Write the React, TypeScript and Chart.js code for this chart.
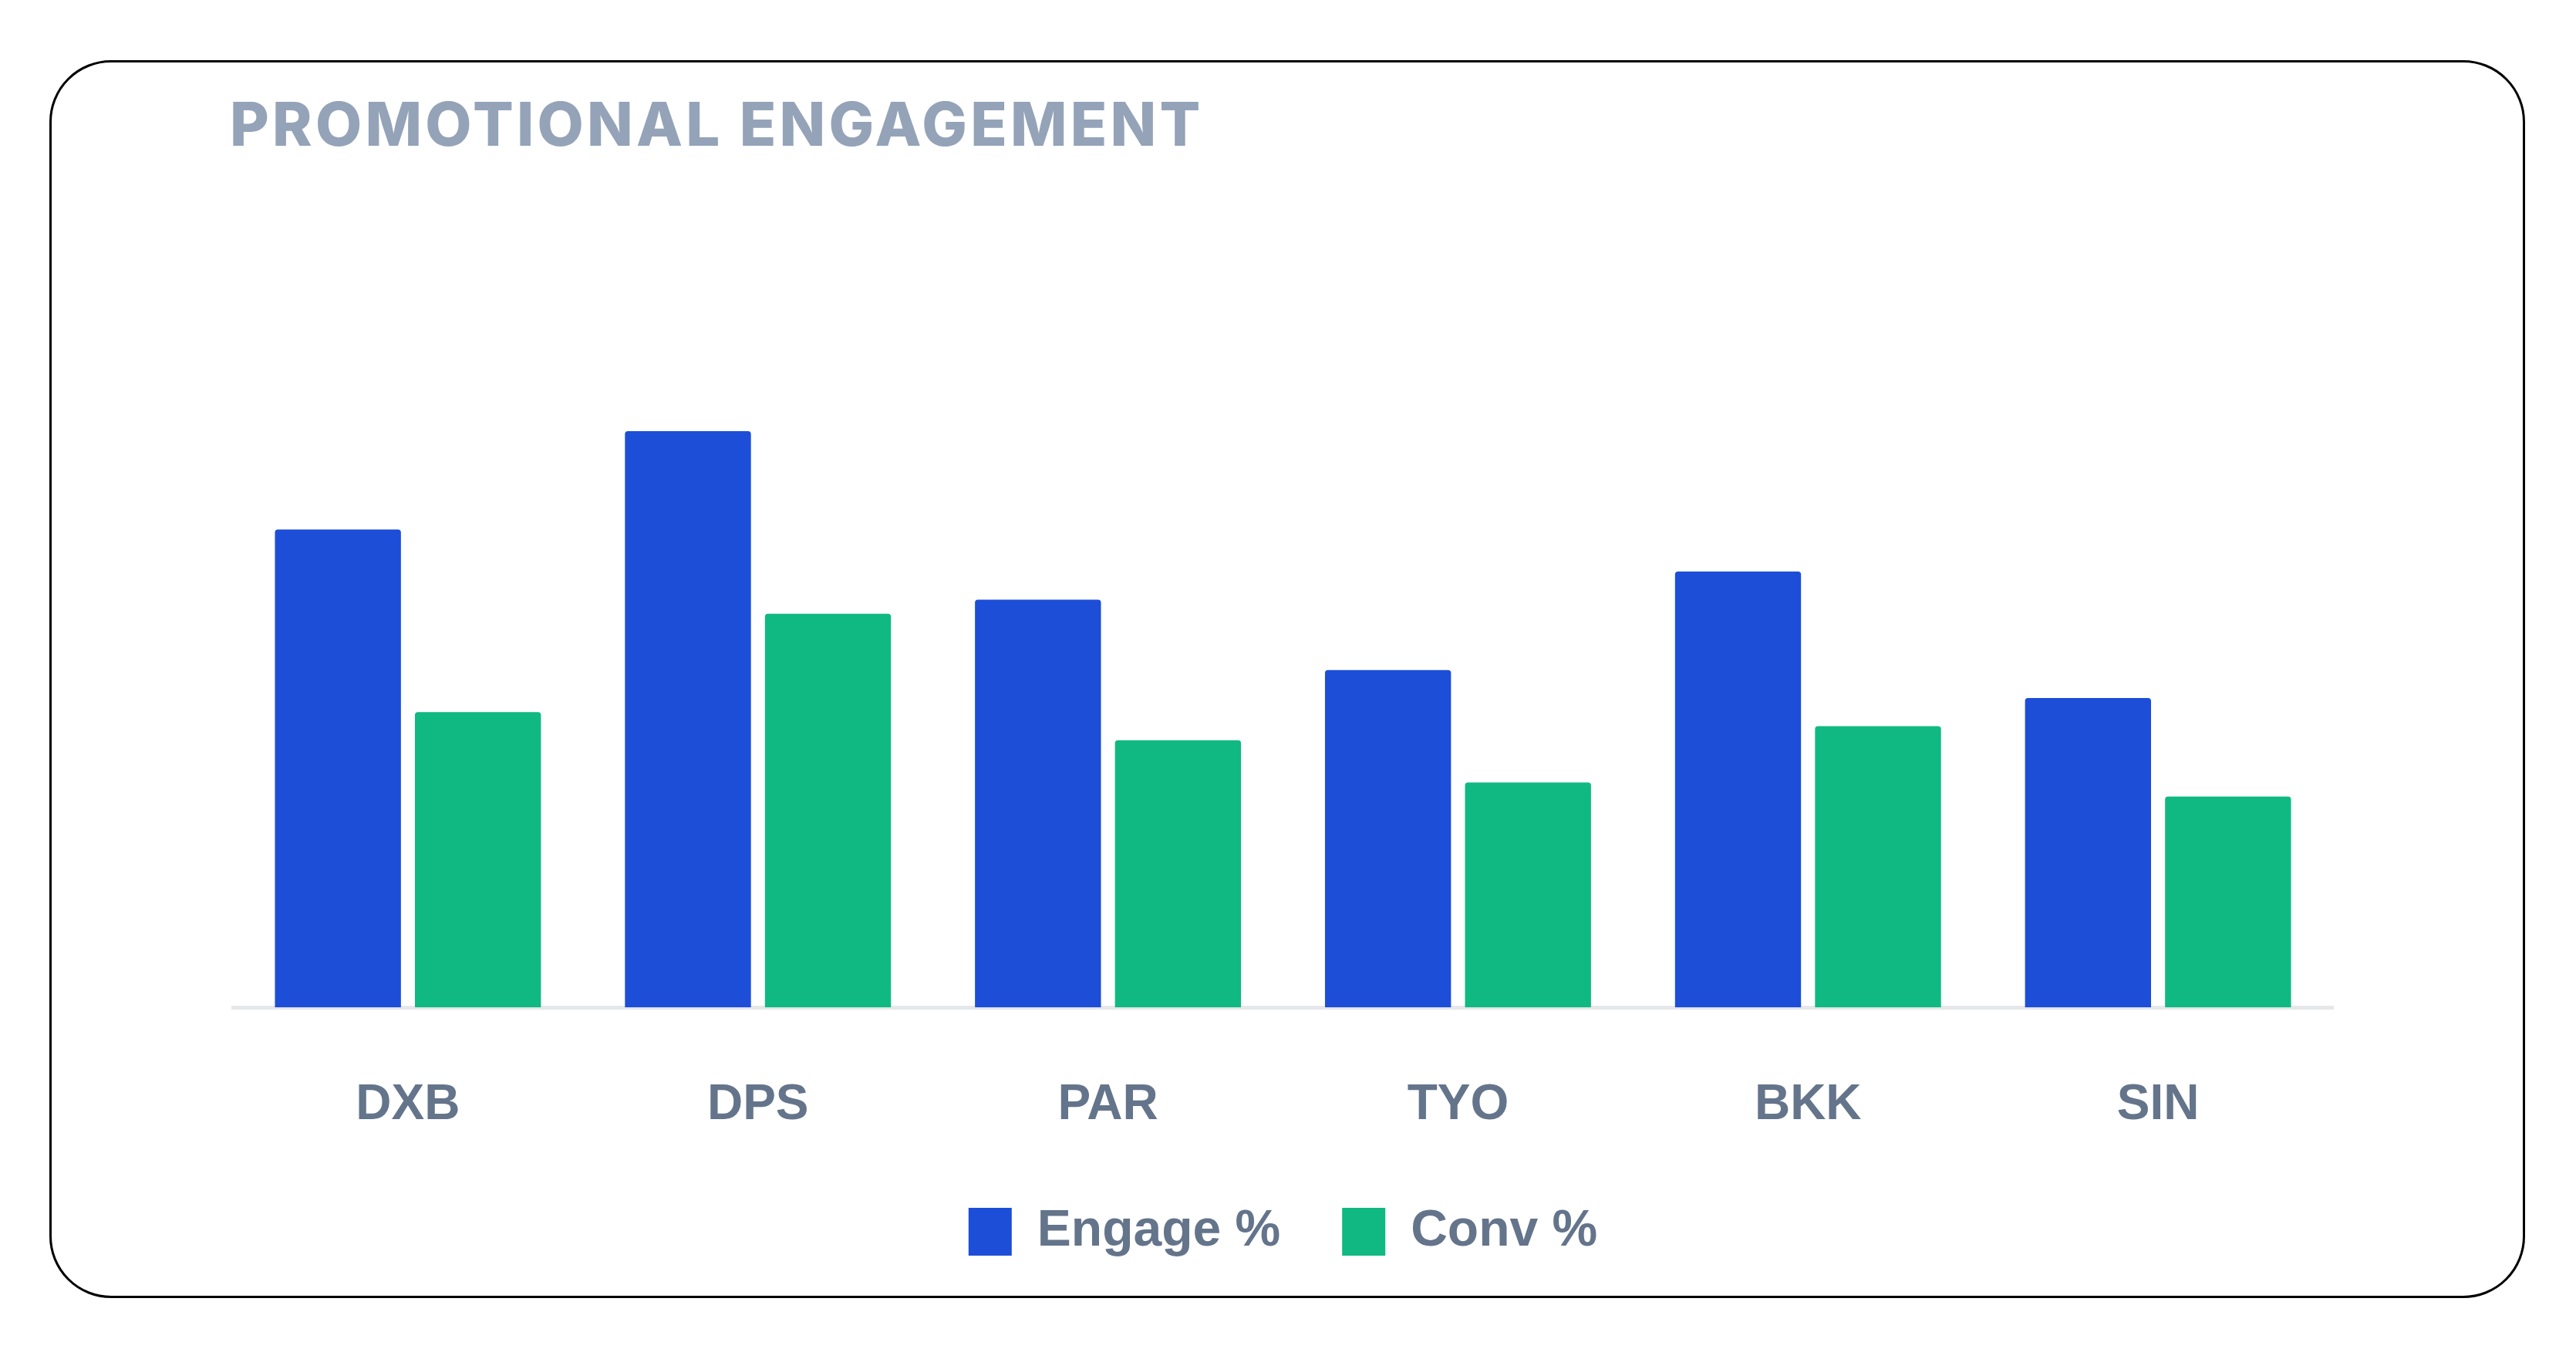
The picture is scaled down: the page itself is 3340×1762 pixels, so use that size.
import React, { useEffect, useRef } from "react";
import { Chart, registerables } from "chart.js";

Chart.register(...registerables);

const categories = ["DXB", "DPS", "PAR", "TYO", "BKK", "SIN"];
const engageValues = [34, 41, 29, 24, 31, 22];
const convValues = [21, 28, 19, 16, 20, 15];
const seriesLabels = ["Engage %", "Conv %"];
const titleText = "PROMOTIONAL ENGAGEMENT";

const BLUE = "#1d4ed8";
const GREEN = "#10b981";
const LABEL = "#64748b";
const FONT = "'Liberation Sans', Arial, Helvetica, sans-serif";

export default function App() {
  const canvasRef = useRef<HTMLCanvasElement | null>(null);

  useEffect(() => {
    const canvas = canvasRef.current;
    if (!canvas) return;
    const chart = new Chart(canvas, {
      type: "bar",
      data: {
        labels: categories,
        datasets: [
          {
            label: seriesLabels[0],
            data: engageValues,
            backgroundColor: BLUE,
            borderWidth: 0,
            borderRadius: 4,
            categoryPercentage: 0.8,
            barPercentage: 0.9,
          },
          {
            label: seriesLabels[1],
            data: convValues,
            backgroundColor: GREEN,
            borderWidth: 0,
            borderRadius: 4,
            categoryPercentage: 0.8,
            barPercentage: 0.9,
          },
        ],
      },
      options: {
        responsive: false,
        animation: false,
        devicePixelRatio: 1,
        layout: { padding: { left: 50, right: 50, top: 50, bottom: 16 } },
        plugins: {
          legend: {
            display: true,
            position: "bottom",
            labels: {
              boxWidth: 56,
              boxHeight: 62,
              padding: 80,
              color: LABEL,
              font: { family: FONT, size: 66, weight: "bold" },
            },
          },
          tooltip: { enabled: false },
          title: { display: false },
        },
        scales: {
          x: {
            grid: { display: false, drawTicks: false },
            border: { display: true, color: "#e5e7eb", width: 5 },
            ticks: {
              color: LABEL,
              padding: 89,
              font: { family: FONT, size: 64, weight: "bold" },
            },
            afterFit: (scale: any) => {
              scale.height = 178;
            },
          },
          y: {
            display: false,
            min: 0,
            max: 45,
          },
        },
      },
    });
    return () => chart.destroy();
  }, []);

  return (
    <div>
      <div
        style={{
          position: "absolute",
          left: 64,
          top: 78,
          width: 3210,
          height: 1605,
          boxSizing: "border-box",
          border: "3px solid #000",
          borderRadius: 80,
          background: "#fff",
        }}
      />
      <div
        style={{
          position: "absolute",
          left: 298,
          top: 122,
          fontFamily: "Inter, 'Liberation Sans', sans-serif",
          fontWeight: 800,
          fontSize: 78,
          lineHeight: "78px",
          letterSpacing: "4.2px",
          color: "#94a3b8",
          whiteSpace: "nowrap",
        }}
      >
        {titleText}
      </div>
      <canvas
        ref={canvasRef}
        width={2823}
        height={1220}
        style={{
          position: "absolute",
          left: 252,
          top: 436,
          width: 2823,
          height: 1220,
        }}
      />
    </div>
  );
}
